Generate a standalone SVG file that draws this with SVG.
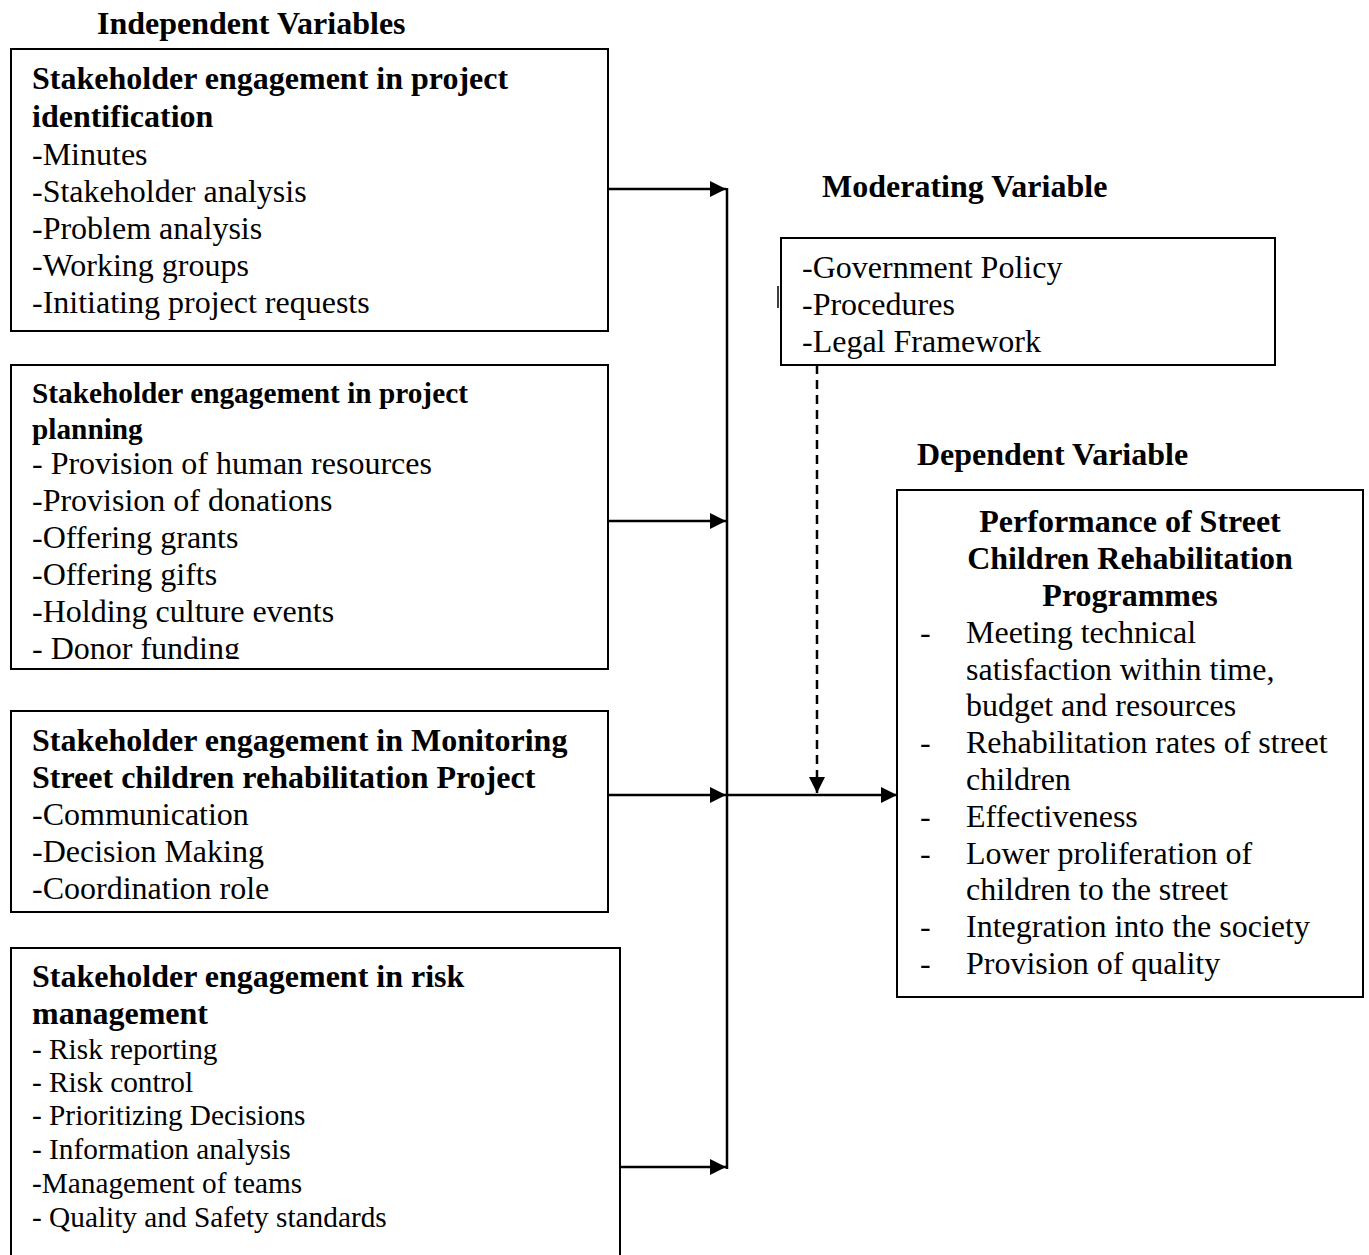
<svg xmlns="http://www.w3.org/2000/svg" width="1369" height="1255" viewBox="0 0 1369 1255">
<style>
text{font-family:"Liberation Serif","Times New Roman",serif;fill:#000}
.h{font-weight:bold;font-size:32px}
.t{font-weight:bold;font-size:32px}
.ts{font-weight:bold;font-size:29.3px}
.i{font-size:32px}
.is{font-size:29.3px}
.box{fill:#fff;stroke:#000;stroke-width:2}
.ln{stroke:#000;stroke-width:2.5;fill:none}
</style>
<defs>
<marker id="ah" viewBox="0 0 10 10" refX="10" refY="5" markerWidth="16" markerHeight="16" markerUnits="userSpaceOnUse" orient="auto">
<path d="M0,0 L10,5 L0,10 z" fill="#000"/>
</marker>
<clipPath id="c2"><rect x="11" y="365" width="597" height="294"/></clipPath>
</defs>
<text class="h" x="97" y="34">Independent Variables</text>
<text class="h" x="822" y="197">Moderating Variable</text>
<text class="h" x="917" y="465">Dependent Variable</text>

<g id="connectors">
<line class="ln" x1="727" y1="188" x2="727" y2="1169"/>
<line class="ln" x1="608" y1="189" x2="726" y2="189" marker-end="url(#ah)"/>
<line class="ln" x1="608" y1="521" x2="726" y2="521" marker-end="url(#ah)"/>
<line class="ln" x1="608" y1="795" x2="726" y2="795" marker-end="url(#ah)"/>
<line class="ln" x1="620" y1="1167" x2="726" y2="1167" marker-end="url(#ah)"/>
<line class="ln" x1="727" y1="795" x2="897" y2="795" marker-end="url(#ah)"/>
<line class="ln" x1="817" y1="365" x2="817" y2="793" stroke-dasharray="9,6" marker-end="url(#ah)"/>
<line x1="778" y1="286" x2="778" y2="308" stroke="#000" stroke-width="1.5"/>
</g>

<g id="box1">
<rect class="box" x="11" y="49" width="597" height="282"/>
<text class="t" x="32" y="89">Stakeholder engagement in project</text>
<text class="t" x="32" y="127">identification</text>
<text class="i" x="32" y="165">-Minutes</text>
<text class="i" x="32" y="202">-Stakeholder analysis</text>
<text class="i" x="32" y="239">-Problem analysis</text>
<text class="i" x="32" y="276">-Working groups</text>
<text class="i" x="32" y="313">-Initiating project requests</text>
</g>

<g id="box2">
<rect class="box" x="11" y="365" width="597" height="304"/>
<text class="ts" x="32" y="403">Stakeholder engagement in project</text>
<text class="ts" x="32" y="439">planning</text>
<g clip-path="url(#c2)">
<text class="i" x="32" y="474">- Provision of human resources</text>
<text class="i" x="32" y="511">-Provision of donations</text>
<text class="i" x="32" y="548">-Offering grants</text>
<text class="i" x="32" y="585">-Offering gifts</text>
<text class="i" x="32" y="622">-Holding culture events</text>
<text class="i" x="32" y="659">- Donor funding</text>
</g>
</g>

<g id="box3">
<rect class="box" x="11" y="711" width="597" height="201"/>
<text class="t" x="32" y="751">Stakeholder engagement in Monitoring</text>
<text class="t" x="32" y="788">Street children rehabilitation Project</text>
<text class="i" x="32" y="825">-Communication</text>
<text class="i" x="32" y="862">-Decision Making</text>
<text class="i" x="32" y="899">-Coordination role</text>
</g>

<g id="box4">
<rect class="box" x="11" y="948" width="609" height="320"/>
<text class="t" x="32" y="987">Stakeholder engagement in risk</text>
<text class="t" x="32" y="1024">management</text>
<text class="is" x="32" y="1059">- Risk reporting</text>
<text class="is" x="32" y="1092">- Risk control</text>
<text class="is" x="32" y="1125">- Prioritizing Decisions</text>
<text class="is" x="32" y="1159">- Information analysis</text>
<text class="is" x="32" y="1193">-Management of teams</text>
<text class="is" x="32" y="1227">- Quality and Safety standards</text>
</g>

<g id="moderating">
<rect class="box" x="781" y="238" width="494" height="127"/>
<text class="i" x="802" y="278">-Government Policy</text>
<text class="i" x="802" y="315">-Procedures</text>
<text class="i" x="802" y="352">-Legal Framework</text>
</g>

<g id="dependent">
<rect class="box" x="897" y="490" width="466" height="507"/>
<text class="t" x="1130" y="532" text-anchor="middle">Performance of Street</text>
<text class="t" x="1130" y="569" text-anchor="middle">Children Rehabilitation</text>
<text class="t" x="1130" y="606" text-anchor="middle">Programmes</text>
<text class="i" x="920" y="643">-</text><text class="i" x="966" y="643">Meeting technical</text>
<text class="i" x="966" y="680">satisfaction within time,</text>
<text class="i" x="966" y="716">budget and resources</text>
<text class="i" x="920" y="753">-</text><text class="i" x="966" y="753">Rehabilitation rates of street</text>
<text class="i" x="966" y="790">children</text>
<text class="i" x="920" y="827">-</text><text class="i" x="966" y="827">Effectiveness</text>
<text class="i" x="920" y="864">-</text><text class="i" x="966" y="864">Lower proliferation of</text>
<text class="i" x="966" y="900">children to the street</text>
<text class="i" x="920" y="937">-</text><text class="i" x="966" y="937">Integration into the society</text>
<text class="i" x="920" y="974">-</text><text class="i" x="966" y="974">Provision of quality</text>
</g>
</svg>
